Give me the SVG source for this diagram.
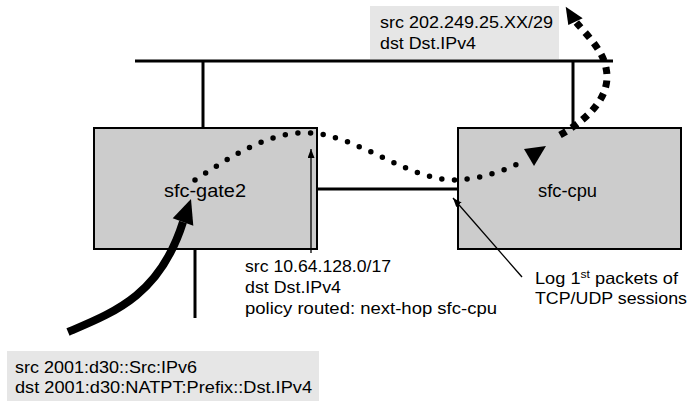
<svg xmlns="http://www.w3.org/2000/svg" width="687" height="401" viewBox="0 0 687 401">
  <style>
    .node { fill: #cccccc; stroke: #000; stroke-width: 2; }
    .label-bg { fill: #e6e6e6; stroke: none; }
    .wire { stroke: #000; stroke-width: 3; fill: none; }
    .thin { stroke: #000; stroke-width: 1.3; fill: none; }
    .txt { font-family: "Liberation Sans", Arial, Helvetica, sans-serif; font-size: 16.5px; fill: #000; }
    .name { font-family: "Liberation Sans", Arial, Helvetica, sans-serif; font-size: 17.5px; fill: #000; text-anchor: middle; }
  </style>
  <defs>
    <marker id="tip" markerUnits="userSpaceOnUse" markerWidth="10" markerHeight="8" refX="9" refY="3.5" orient="auto">
      <path d="M0,0 L9,3.5 L0,7 z" fill="#000"/>
    </marker>
  </defs>

  <rect width="687" height="401" fill="#fff"/>

  <!-- network segments -->
  <g id="connectors">
    <line class="wire" x1="135" y1="61" x2="613" y2="61"/>
    <line class="wire" x1="203" y1="61" x2="203" y2="128" stroke-width="2.5"/>
    <line class="wire" x1="573" y1="61" x2="573" y2="128" stroke-width="2.5"/>
    <line class="wire" x1="317" y1="189" x2="458" y2="189"/>
    <line class="wire" x1="195" y1="249" x2="195" y2="318"/>
  </g>

  <!-- hosts -->
  <g id="node-sfc-gate2">
    <rect class="node" x="94" y="128" width="223" height="121"/>
    <text class="name" x="205" y="197" textLength="82" lengthAdjust="spacingAndGlyphs">sfc-gate2</text>
  </g>
  <g id="node-sfc-cpu">
    <rect class="node" x="458" y="128" width="223" height="121"/>
    <text class="name" x="567.5" y="197" textLength="59" lengthAdjust="spacingAndGlyphs">sfc-cpu</text>
  </g>

  <!-- packet flows -->
  <g id="flows">
    <!-- inbound IPv6 traffic -->
    <path d="M68,332 C115,312 160,295 183,222" stroke="#000" stroke-width="8" fill="none"/>
    <polygon points="191,199 172.7,218.3 193.3,225.7" fill="#000"/>
    <!-- policy-routed hop to sfc-cpu -->
    <path d="M195,180 C232,156 270,130 312,133 C360,137 410,181 456,180 C480,179 505,171 523,161" stroke="#000" stroke-width="5.5" stroke-linecap="round" stroke-dasharray="0 12.7" fill="none"/>
    <polygon points="524,149 546,146 534,166" fill="#000"/>
    <!-- outbound IPv4 traffic -->
    <path d="M560,135 C590,118 612,95 606,68 C603,50 585,33 576,22" stroke="#000" stroke-width="7" stroke-dasharray="7 6.5" fill="none"/>
    <polygon points="565.7,6.7 568.3,25 582.7,18.3" fill="#000"/>
    <!-- pointers -->
    <line class="thin" x1="311" y1="253" x2="311" y2="149" marker-end="url(#tip)"/>
    <line class="thin" x1="522" y1="277" x2="453" y2="198" marker-end="url(#tip)"/>
  </g>

  <!-- address annotations -->
  <g id="label-outbound">
    <rect class="label-bg" x="370" y="6" width="189" height="53"/>
    <text class="txt" x="380" y="28" textLength="173" lengthAdjust="spacingAndGlyphs">src 202.249.25.XX/29</text>
    <text class="txt" x="380" y="49" textLength="96" lengthAdjust="spacingAndGlyphs">dst Dst.IPv4</text>
  </g>
  <g id="label-policy">
    <text class="txt" x="245" y="272" textLength="146" lengthAdjust="spacingAndGlyphs">src 10.64.128.0/17</text>
    <text class="txt" x="245" y="293" textLength="96" lengthAdjust="spacingAndGlyphs">dst Dst.IPv4</text>
    <text class="txt" x="245" y="314" textLength="252" lengthAdjust="spacingAndGlyphs">policy routed: next-hop sfc-cpu</text>
  </g>
  <g id="label-log">
    <text class="txt" x="535" y="284" textLength="143" lengthAdjust="spacingAndGlyphs">Log 1<tspan font-size="11" dy="-6">st</tspan><tspan dy="6"> packets of</tspan></text>
    <text class="txt" x="535" y="304" textLength="152" lengthAdjust="spacingAndGlyphs">TCP/UDP sessions</text>
  </g>
  <g id="label-inbound">
    <rect class="label-bg" x="7" y="351" width="312" height="50"/>
    <text class="txt" x="15" y="373" textLength="182" lengthAdjust="spacingAndGlyphs">src 2001:d30::Src:IPv6</text>
    <text class="txt" x="15" y="393" textLength="297" lengthAdjust="spacingAndGlyphs">dst 2001:d30:NATPT:Prefix::Dst.IPv4</text>
  </g>
</svg>
